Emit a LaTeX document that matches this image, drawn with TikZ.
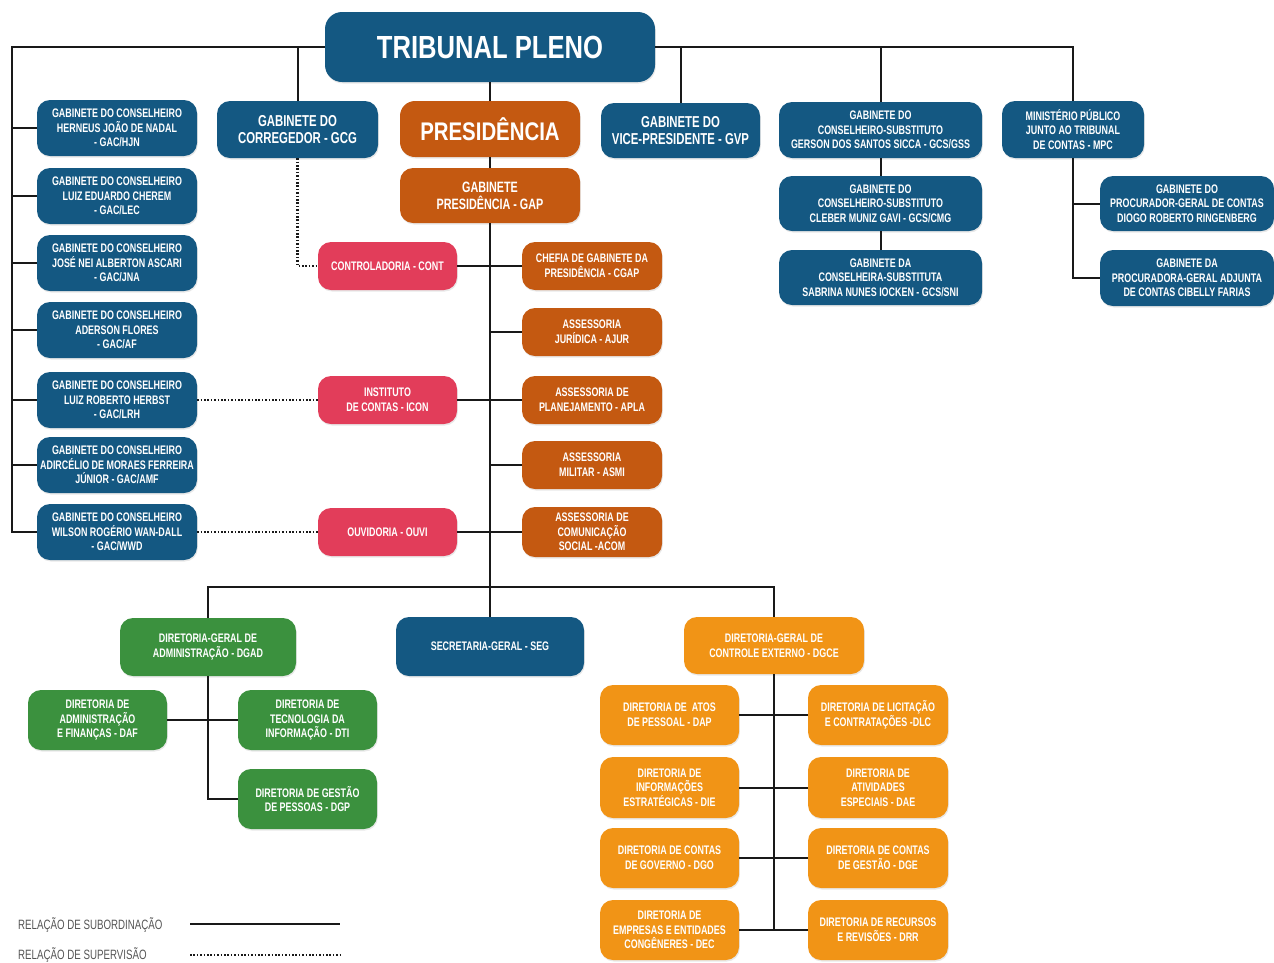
\documentclass[tikz,border=0pt]{standalone}
\usepackage{fontspec}
\newfontfamily\cf[FakeStretch=0.72]{Liberation Sans}
\newfontfamily\cfw[FakeStretch=0.8]{Liberation Sans}
\usetikzlibrary{shadows}
\definecolor{cblue}{RGB}{20,88,130}
\definecolor{cpres}{RGB}{196,89,17}
\definecolor{cred}{RGB}{226,61,90}
\definecolor{cgreen}{RGB}{59,145,62}
\definecolor{corange}{RGB}{241,148,22}
\definecolor{cline}{RGB}{25,25,25}
\definecolor{clegend}{RGB}{85,85,85}
\tikzset{
  box/.style={rounded corners=13pt, draw=none, text=white, align=center, inner sep=0pt,
    font=\cf\bfseries\fontsize{12.4}{14.6}\selectfont,
    drop shadow={opacity=0.18, shadow xshift=0.8pt, shadow yshift=-1.5pt}},
  blu/.style={box, fill=cblue},
  pres/.style={box, fill=cpres},
  redb/.style={box, fill=cred},
  grn/.style={box, fill=cgreen},
  org/.style={box, fill=corange},
  mid/.style={font=\cf\bfseries\fontsize{15.8}{17.5}\selectfont},
  con/.style={line width=2pt, draw=cline},
  sup/.style={line width=2.4pt, draw=cline, dash pattern=on 1.6pt off 1.8pt},
  leg/.style={text=clegend, font=\cf\fontsize{13.5}{15}\selectfont, inner sep=0pt}
}
\newcommand{\bx}[7]{\node[#2, minimum width={(#5-#3)*1pt}, minimum height={(#6-#4)*1pt}] (#1) at ({(#3+#5)/2},{(#4+#6)/2}) {#7};}
\begin{document}
\begin{tikzpicture}[x=1pt,y=-1pt]
\useasboundingbox (0,0) rectangle (1274,962);
% top
\bx{tp}{blu, rounded corners=17pt, font=\cfw\bfseries\fontsize{32}{34}\selectfont}{325}{12}{655}{82}{TRIBUNAL PLENO}
\bx{pres}{pres, rounded corners=15pt, font=\cfw\bfseries\fontsize{25.5}{28}\selectfont}{400}{101}{580}{157}{PRESIDÊNCIA}
\bx{gcg}{blu, mid}{217}{101}{378}{158}{GABINETE DO\\CORREGEDOR - GCG}
\bx{gvp}{blu, mid}{601}{103}{760}{158}{GABINETE DO\\VICE-PRESIDENTE - GVP}
\bx{gss}{blu}{779}{102}{982}{158}{GABINETE DO\\CONSELHEIRO-SUBSTITUTO\\GERSON DOS SANTOS SICCA - GCS/GSS}
\bx{cmg}{blu}{779}{176}{982}{231}{GABINETE DO\\CONSELHEIRO-SUBSTITUTO\\CLEBER MUNIZ GAVI - GCS/CMG}
\bx{sni}{blu}{779}{250}{982}{305}{GABINETE DA\\CONSELHEIRA-SUBSTITUTA\\SABRINA NUNES IOCKEN - GCS/SNI}
\bx{mpc}{blu}{1002}{101}{1144}{158}{MINISTÉRIO PÚBLICO\\JUNTO AO TRIBUNAL\\DE CONTAS - MPC}
\bx{pga}{blu}{1100}{176}{1274}{231}{GABINETE DO\\PROCURADOR-GERAL DE CONTAS\\DIOGO ROBERTO RINGENBERG}
\bx{pgaj}{blu}{1100}{250}{1274}{306}{GABINETE DA\\PROCURADORA-GERAL ADJUNTA\\DE CONTAS CIBELLY FARIAS}
\bx{gap}{pres, font=\cf\bfseries\fontsize{15}{17}\selectfont}{400}{168}{580}{223}{GABINETE\\PRESIDÊNCIA - GAP}
% left column
\bx{hjn}{blu}{37}{100}{197}{156}{GABINETE DO CONSELHEIRO\\HERNEUS JOÃO DE NADAL\\- GAC/HJN}
\bx{lec}{blu}{37}{168}{197}{224}{GABINETE DO CONSELHEIRO\\LUIZ EDUARDO CHEREM\\- GAC/LEC}
\bx{jna}{blu}{37}{235}{197}{291}{GABINETE DO CONSELHEIRO\\JOSÉ NEI ALBERTON ASCARI\\- GAC/JNA}
\bx{af}{blu}{37}{302}{197}{358}{GABINETE DO CONSELHEIRO\\ADERSON FLORES\\- GAC/AF}
\bx{lrh}{blu}{37}{372}{197}{428}{GABINETE DO CONSELHEIRO\\LUIZ ROBERTO HERBST\\- GAC/LRH}
\bx{amf}{blu}{37}{437}{197}{493}{GABINETE DO CONSELHEIRO\\ADIRCÉLIO DE MORAES FERREIRA\\JÚNIOR - GAC/AMF}
\bx{wwd}{blu}{37}{504}{197}{560}{GABINETE DO CONSELHEIRO\\WILSON ROGÉRIO WAN-DALL\\- GAC/WWD}
% red
\bx{cont}{redb}{318}{242}{457}{290}{CONTROLADORIA - CONT}
\bx{icon}{redb}{318}{376}{457}{424}{INSTITUTO\\DE CONTAS - ICON}
\bx{ouvi}{redb}{318}{508}{457}{556}{OUVIDORIA - OUVI}
% presidency orange
\bx{cgap}{pres}{522}{242}{662}{290}{CHEFIA DE GABINETE DA\\PRESIDÊNCIA - CGAP}
\bx{ajur}{pres}{522}{308}{662}{356}{ASSESSORIA\\JURÍDICA - AJUR}
\bx{apla}{pres}{522}{376}{662}{424}{ASSESSORIA DE\\PLANEJAMENTO - APLA}
\bx{asmi}{pres}{522}{441}{662}{489}{ASSESSORIA\\MILITAR - ASMI}
\bx{acom}{pres}{522}{507}{662}{557}{ASSESSORIA DE\\COMUNICAÇÃO\\SOCIAL -ACOM}
% bottom
\bx{dgad}{grn}{120}{618}{296}{676}{DIRETORIA-GERAL DE\\ADMINISTRAÇÃO - DGAD}
\bx{seg}{blu}{396}{617}{584}{676}{SECRETARIA-GERAL - SEG}
\bx{dgce}{org}{684}{617}{864}{674}{DIRETORIA-GERAL DE\\CONTROLE EXTERNO - DGCE}
\bx{daf}{grn}{28}{690}{167}{750}{DIRETORIA DE\\ADMINISTRAÇÃO\\E FINANÇAS - DAF}
\bx{dti}{grn}{238}{690}{377}{750}{DIRETORIA DE\\TECNOLOGIA DA\\INFORMAÇÃO - DTI}
\bx{dgp}{grn}{238}{769}{377}{829}{DIRETORIA DE GESTÃO\\DE PESSOAS - DGP}
\bx{dap}{org}{600}{685}{739}{745}{DIRETORIA DE\ \ ATOS\\DE PESSOAL - DAP}
\bx{dlc}{org}{808}{685}{948}{745}{DIRETORIA DE LICITAÇÃO\\E CONTRATAÇÕES -DLC}
\bx{die}{org}{600}{757}{739}{818}{DIRETORIA DE\\INFORMAÇÕES\\ESTRATÉGICAS - DIE}
\bx{dae}{org}{808}{757}{948}{818}{DIRETORIA DE\\ATIVIDADES\\ESPECIAIS - DAE}
\bx{dgo}{org}{600}{828}{739}{888}{DIRETORIA DE CONTAS\\DE GOVERNO - DGO}
\bx{dge}{org}{808}{828}{948}{888}{DIRETORIA DE CONTAS\\DE GESTÃO - DGE}
\bx{dec}{org}{600}{900}{739}{960}{DIRETORIA DE\\EMPRESAS E ENTIDADES\\CONGÊNERES - DEC}
\bx{drr}{org}{808}{900}{948}{960}{DIRETORIA DE RECURSOS\\E REVISÕES - DRR}
% connectors
\coordinate (L) at (12,47);
\draw[con] (tp.west) -- (L) |- (wwd.west);
\foreach \n in {hjn,lec,jna,af,lrh,amf} \draw[con] (\n.west) -- (L |- \n.west);
\draw[con] (gcg.north) -- (gcg.north |- tp.west);
\draw[con] (tp.east) -| (mpc.north);
\draw[con] (gvp.north) -- (gvp.north |- tp.east);
\draw[con] (gss.north) -- (gss.north |- tp.east);
\draw[con] (gss.south) -- (cmg.north);
\draw[con] (cmg.south) -- (sni.north);
\draw[con] (mpc.south) |- (pgaj.west);
\draw[con] (mpc.south) |- (pga.west);
\draw[con] (tp.south) -- (pres.north);
\draw[con] (pres.south) -- (gap.north);
\draw[con] (gap.south) -- (seg.north);
\draw[con] (cont.east) -- (cgap.west);
\draw[con] (icon.east) -- (apla.west);
\draw[con] (ouvi.east) -- (acom.west);
\draw[con] (ajur.west) -- (ajur.west -| gap.south);
\draw[con] (asmi.west) -- (asmi.west -| gap.south);
\draw[sup] (gcg.south) |- (cont.west);
\draw[sup] (lrh.east) -- (icon.west);
\draw[sup] (wwd.east) -- (ouvi.west);
\coordinate (B) at (490,587);
\draw[con] (dgad.north) |- (B) -| (dgce.north);
\draw[con] (dgad.south) |- (dgp.west);
\draw[con] (daf.east) -- (dti.west);
\draw[con] (dgce.south) -- (dgce.south |- dec.east);
\draw[con] (dap.east) -- (dlc.west);
\draw[con] (die.east) -- (dae.west);
\draw[con] (dgo.east) -- (dge.west);
\draw[con] (dec.east) -- (drr.west);
% legend
\node[leg, anchor=west] (l1) at (18,925) {RELAÇÃO DE SUBORDINAÇÃO};
\node[leg, anchor=west] (l2) at (18,955) {RELAÇÃO DE SUPERVISÃO};
\coordinate (a1) at (190,924); \coordinate (b1) at (340,924);
\coordinate (a2) at (190,955); \coordinate (b2) at (340,955);
\draw[con, line width=1.5pt] (a1) -- (b1);
\draw[sup, line width=1.8pt] (a2) -- (b2);
\end{tikzpicture}
\end{document}
